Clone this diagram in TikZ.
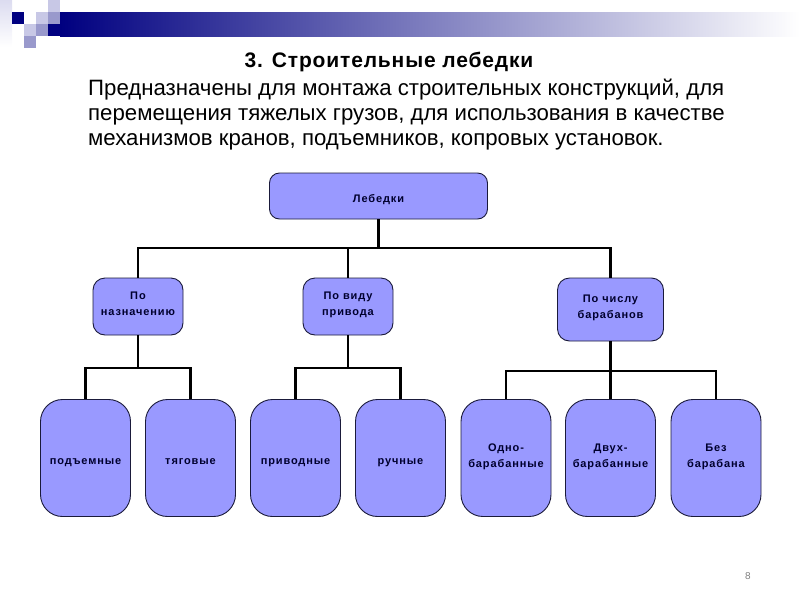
\documentclass[tikz,border=0pt]{standalone}
\usepackage{fontspec}
\setmainfont{Liberation Sans}
\definecolor{boxfill}{HTML}{9999FF}
\definecolor{boxline}{HTML}{1A1A3A}
\definecolor{boxtext}{HTML}{00002E}
\definecolor{navyc}{HTML}{000080}
\definecolor{lightsq}{HTML}{C8C8E6}
\definecolor{medsq}{HTML}{9999CC}
\definecolor{paletop}{HTML}{DCDCF0}
\tikzset{
  box/.style={draw=boxline, line width=0.9pt, fill=boxfill, text=boxtext,
    font=\fontsize{11}{16}\selectfont\bfseries\addfontfeature{LetterSpace=8},
    align=center, inner sep=2pt,
    execute at begin node={\rule[-4.8pt]{0pt}{22pt}},
    execute at end node={\rule[-2pt]{0pt}{2pt}}},
  topbox/.style={box, rounded corners=10pt, minimum width=218pt, minimum height=46pt},
  midbox/.style={box, rounded corners=12pt, minimum width=90pt, minimum height=57pt},
  leafbox/.style={box, rounded corners=22pt, minimum width=90pt, minimum height=117pt},
  link/.style={draw=black, line width=2.2pt},
}
\begin{document}
\begin{tikzpicture}[x=1pt,y=-1pt]
\useasboundingbox (0,0) rectangle (800,600);
% decoration
\shade[left color=navyc, right color=white] (60,12) rectangle (800,36);
\fill[navyc] (48,24) rectangle (60.5,36);
\shade[top color=paletop, bottom color=white] (0,0) rectangle (12,47);
\fill[navyc] (12,12) rectangle (24,24);
\fill[lightsq] (24,24) rectangle (36,36);
\fill[medsq] (24,36) rectangle (36,48);
\fill[lightsq] (36,12) rectangle (48,24);
\fill[medsq] (36,24) rectangle (48,36);
\fill[lightsq] (48,0) rectangle (60,12);
\fill[medsq] (48,12) rectangle (60,24);
% title and text
\node[anchor=base, inner sep=0pt, font=\fontsize{21}{24}\selectfont\bfseries\addfontfeature{LetterSpace=4}] (title) at (389,67) {3. Строительные лебедки};
\node[anchor=base west, align=left, inner sep=0pt, font=\fontsize{22.2}{25}\selectfont] (para) at (88,145)
  {Предназначены для монтажа строительных конструкций, для\\
   перемещения тяжелых грузов, для использования в качестве\\
   механизмов кранов, подъемников, копровых установок.};
\node[text=gray, font=\fontsize{10}{12}\selectfont] (pnum) at (748,576) {8};
% nodes
\node[topbox] (top) at (378.5,196) {Лебедки};
\node[midbox] (n1) at (138,306.5) {По\\назначению};
\node[midbox] (n2) at (348,306.5) {По виду\\привода};
\node[midbox, minimum width=106pt, minimum height=63pt] (n3) at (610.5,309.5) {По числу\\барабанов};
\node[leafbox] (l1) at (85.5,458) {подъемные};
\node[leafbox] (l2) at (190.5,458) {тяговые};
\node[leafbox] (l3) at (295.5,458) {приводные};
\node[leafbox] (l4) at (400.5,458) {ручные};
\node[leafbox] (l5) at (506,458) {Одно-\\барабанные};
\node[leafbox] (l6) at (610.5,458) {Двух-\\барабанные};
\node[leafbox] (l7) at (716,458) {Без\\барабана};
% connectors
\coordinate (b1) at (378.5,248);
\coordinate (b2) at (138,368);
\coordinate (b3) at (348,368);
\coordinate (b4) at (610.5,371);
\draw[link] (top.south) -- (b1);
\draw[link] (n1.north) |- (b1) -| (n3.north);
\draw[link] (n2.north) -- (n2.north |- b1);
\draw[link] (n1.south) -- (b2);
\draw[link] (l1.north) |- (b2) -| (l2.north);
\draw[link] (n2.south) -- (b3);
\draw[link] (l3.north) |- (b3) -| (l4.north);
\draw[link] (n3.south) -- (b4);
\draw[link] (l5.north) |- (b4) -| (l7.north);
\draw[link] (l6.north) -- (b4);
\end{tikzpicture}
\end{document}
